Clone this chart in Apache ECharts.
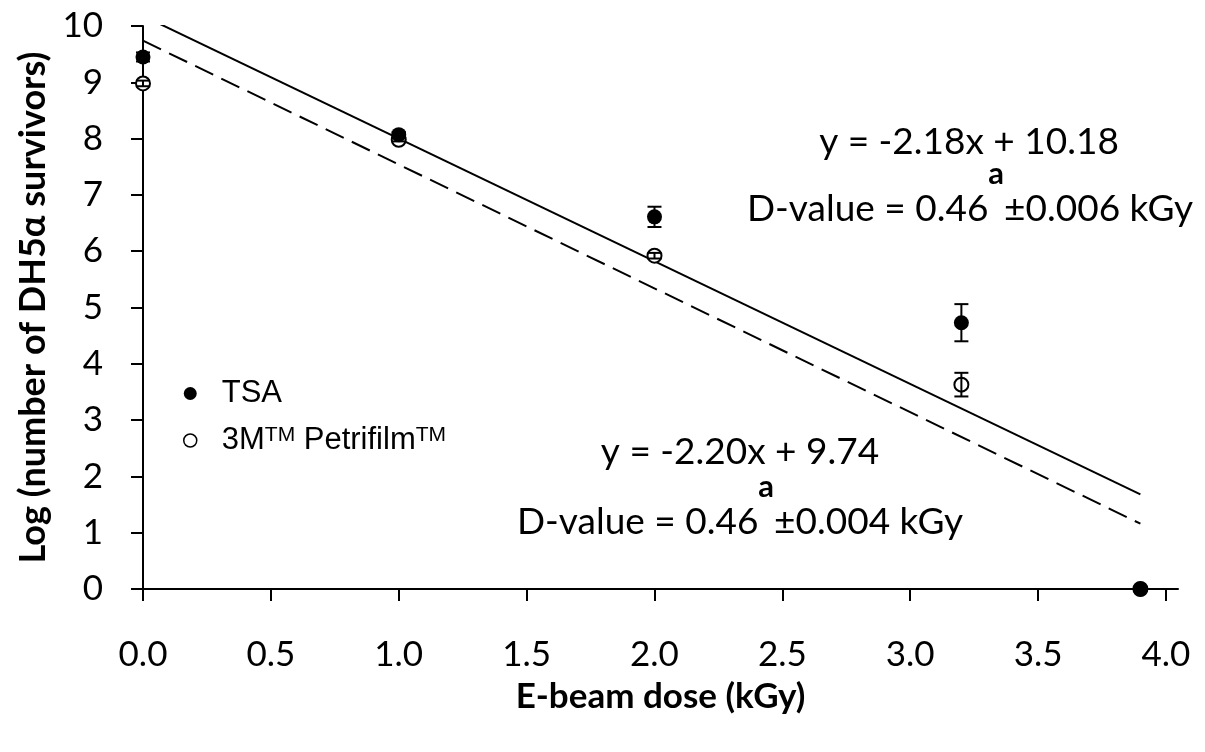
<!DOCTYPE html>
<html lang="en">
<head>
    <meta charset="UTF-8">
    <title>E-beam dose survival curve</title>
    <script src="https://cdn.jsdelivr.net/npm/echarts@6.0.0/dist/echarts.min.js"></script>
    <style>
        html, body { margin: 0; padding: 0; background: #fff; }
        #main { width: 1205px; height: 752px; }
    </style>
</head>
<body>

<div id="main"></div>

<script>
    // dose ticks (kGy)
    const doseTicks = [0, 0.5, 1, 1.5, 2, 2.5, 3, 3.5, 4];

    // TSA (filled circles)
    const tsaDose = [0, 1, 2, 3.2, 3.9];
    const tsaLog = [9.45, 8.07, 6.61, 4.73, 0];
    const tsaErr = [0.08, 0.05, 0.18, 0.33, 0];

    // 3M Petrifilm (open circles)
    const petriDose = [0, 1, 2, 3.2, 3.9];
    const petriLog = [8.98, 7.98, 5.92, 3.63, 0];
    const petriErr = [0.05, 0.03, 0.05, 0.21, 0];

    // fitted lines, end points
    const tsaFit = [[0, 10.18], [3.9, 1.68]];
    const petriFit = [[0, 9.74], [3.9, 1.16]];

    const calibri = 'Lato, "Open Sans", sans-serif';
    const arial = '"Liberation Sans", Arial, sans-serif';

    const chart = echarts.init(document.getElementById('main'));

    function points(xs, ys) {
        return xs.map((x, i) => [x, ys[i]]);
    }

    function bars(xs, ys, errs) {
        return xs.map((x, i) => [x, ys[i] - errs[i], ys[i] + errs[i]])
            .filter((d, i) => errs[i] > 0);
    }

    // error bar with caps
    function errorBar(params, api) {
        const x = api.value(0);
        const top = api.coord([x, api.value(2)]);
        const bot = api.coord([x, api.value(1)]);
        const w = 7;
        const st = { stroke: '#000', lineWidth: 2 };
        return {
            type: 'group',
            children: [
                { type: 'line', shape: { x1: top[0], y1: top[1], x2: bot[0], y2: bot[1] }, style: st },
                { type: 'line', shape: { x1: top[0] - w, y1: top[1], x2: top[0] + w, y2: top[1] }, style: st },
                { type: 'line', shape: { x1: bot[0] - w, y1: bot[1], x2: bot[0] + w, y2: bot[1] }, style: st }
            ]
        };
    }

    // annotations
    const noteSize = 37;
    const supSize = 31;
    const measureCtx = document.createElement('canvas').getContext('2d');

    function textWidth(str, size, weight) {
        measureCtx.font = weight + ' ' + size + 'px ' + calibri;
        return measureCtx.measureText(str).width;
    }

    function textAt(x, y, str, size, weight, align) {
        return {
            type: 'text',
            x: x,
            y: y,
            style: {
                text: str,
                fontFamily: calibri,
                fontSize: size,
                fontWeight: weight,
                fill: '#000',
                align: align,
                verticalAlign: 'middle'
            }
        };
    }

    // "D-value = 0.46^a ± ..." with the bold raised a
    function dValue(cx, cy, head, tail) {
        const w1 = textWidth(head, noteSize, 'normal');
        const w2 = textWidth('a', supSize, 'bold');
        const w3 = textWidth(tail, noteSize, 'normal');
        const x0 = cx - (w1 + w2 + w3) / 2;
        return [
            textAt(x0, cy, head, noteSize, 'normal', 'left'),
            textAt(x0 + w1, cy - 35, 'a', supSize, 'bold', 'left'),
            textAt(x0 + w1 + w2, cy, tail, noteSize, 'normal', 'left')
        ];
    }

    const option = {
        animation: false,
        backgroundColor: '#fff',
        grid: { left: 143, right: 27, top: 26, bottom: 163 },
        xAxis: {
            type: 'value',
            min: 0,
            max: 4.047,
            name: 'E-beam dose (kGy)',
            nameLocation: 'middle',
            nameGap: 90,
            nameTextStyle: { fontFamily: calibri, fontSize: 35, fontWeight: 'bold', color: '#000' },
            axisLine: { lineStyle: { color: '#000', width: 2 } },
            axisTick: { length: 12, customValues: doseTicks, lineStyle: { color: '#000', width: 2 } },
            axisLabel: {
                customValues: doseTicks,
                formatter: v => v.toFixed(1),
                margin: 48,
                fontFamily: calibri,
                fontSize: 35,
                color: '#000'
            },
            splitLine: { show: false }
        },
        yAxis: {
            type: 'value',
            min: 0,
            max: 10,
            interval: 1,
            name: 'Log (number of DH5\u03b1 survivors)',
            nameLocation: 'middle',
            nameRotate: 90,
            nameGap: 90,
            nameTextStyle: { fontFamily: calibri, fontSize: 36, fontWeight: 'bold', color: '#000' },
            axisLine: { show: true, lineStyle: { color: '#000', width: 2 } },
            axisTick: { show: true, length: 12, lineStyle: { color: '#000', width: 2 } },
            axisLabel: { margin: 40, fontFamily: calibri, fontSize: 35, color: '#000' },
            splitLine: { show: false }
        },
        legend: {
            orient: 'vertical',
            left: 178,
            top: 373,
            itemGap: 16,
            itemWidth: 13,
            itemHeight: 13,
            data: [
                { name: 'TSA', icon: 'circle', itemStyle: { color: '#000', opacity: 1 } },
                { name: 'Petrifilm', icon: 'circle', itemStyle: { color: '#fff', borderColor: '#000', borderWidth: 1.5, opacity: 1 } }
            ],
            formatter: name => name === 'TSA' ? 'TSA' : '3M{s|TM} Petrifilm{s|TM}',
            textStyle: {
                fontFamily: arial,
                fontSize: 31,
                color: '#000',
                padding: [0, 0, 0, 20],
                rich: {
                    s: { fontFamily: arial, fontSize: 21, verticalAlign: 'top', lineHeight: 20, padding: [0, 0, 16, 0], color: '#000' }
                }
            }
        },
        graphic: [
            textAt(969, 142, 'y = -2.18x + 10.18', noteSize, 'normal', 'center'),
            ...dValue(970, 209, 'D-value = 0.46', '\u00b10.006 kGy'),
            textAt(740, 452, 'y = -2.20x + 9.74', noteSize, 'normal', 'center'),
            ...dValue(740, 522, 'D-value = 0.46', '\u00b10.004 kGy')
        ],
        series: [
            {
                name: 'tsaFit',
                type: 'line',
                data: tsaFit,
                symbol: 'none',
                clip: true,
                lineStyle: { color: '#000', width: 2 },
                z: 1
            },
            {
                name: 'petriFit',
                type: 'line',
                data: petriFit,
                symbol: 'none',
                clip: true,
                lineStyle: { color: '#000', width: 2, type: [20, 9] },
                z: 1
            },
            {
                name: 'Petrifilm',
                type: 'scatter',
                data: points(petriDose, petriLog),
                symbol: 'circle',
                symbolSize: 14,
                itemStyle: { color: '#fff', borderColor: '#000', borderWidth: 2, opacity: 1 },
                z: 3
            },
            {
                name: 'TSA',
                type: 'scatter',
                data: points(tsaDose, tsaLog),
                symbol: 'circle',
                symbolSize: 15,
                itemStyle: { color: '#000', opacity: 1 },
                z: 5
            },
            {
                name: 'petriErr',
                type: 'custom',
                renderItem: errorBar,
                data: bars(petriDose, petriLog, petriErr),
                z: 4
            },
            {
                name: 'tsaErr',
                type: 'custom',
                renderItem: errorBar,
                data: bars(tsaDose, tsaLog, tsaErr),
                z: 6
            }
        ]
    };

    chart.setOption(option);
</script>

</body>
</html>
